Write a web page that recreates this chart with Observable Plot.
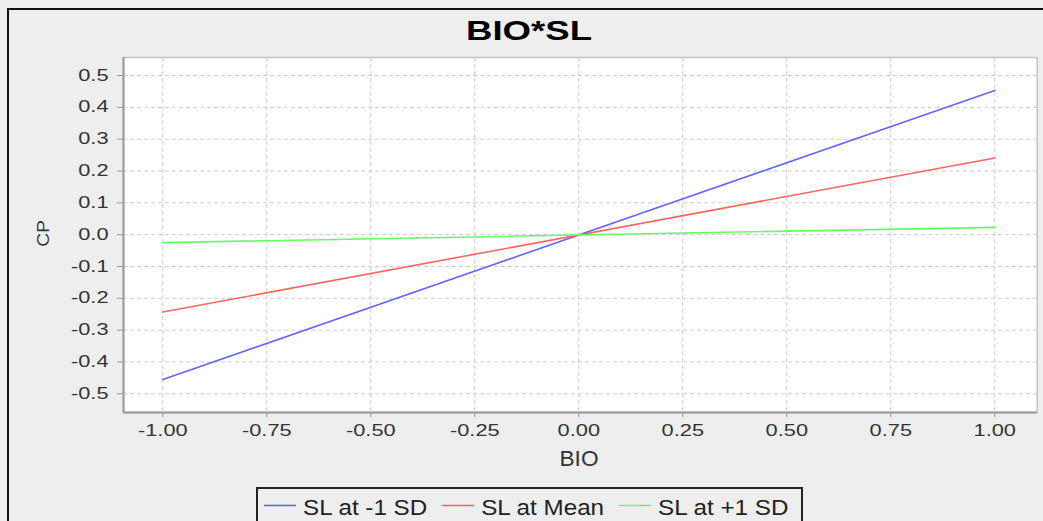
<!DOCTYPE html>
<html><head><meta charset="utf-8">
<script src="https://cdn.jsdelivr.net/npm/d3@7"></script>
<script src="https://cdn.jsdelivr.net/npm/@observablehq/plot@0.6"></script>
<style>
html,body{margin:0;padding:0;background:#eeeeee;width:1043px;height:521px;overflow:hidden;}
#frame{position:absolute;left:7px;top:8px;width:1100px;height:600px;border-left:2px solid #111;border-top:2px solid #111;box-sizing:border-box;}
#chart{position:absolute;left:0;top:0;}
#overlay{position:absolute;left:0;top:0;}
</style></head><body>
<div id="frame"></div>
<div id="chart"></div>
<svg id="overlay" width="1043" height="521" xmlns="http://www.w3.org/2000/svg"></svg>
<script>
const title = "BIO*SL";
const xLabel = "BIO";
const yLabel = "CP";
const seriesNames = ["SL at -1 SD", "SL at Mean", "SL at +1 SD"];
const seriesColors = ["#6464ff", "#ff6464", "#64ff64"];
const bio = [-1, 1];
const cpMinus1SD = [-0.455, 0.453];
const cpMean = [-0.243, 0.241];
const cpPlus1SD = [-0.025, 0.023];
const xTicks = [-1, -0.75, -0.5, -0.25, 0, 0.25, 0.5, 0.75, 1];
const yTicks = [-0.5, -0.4, -0.3, -0.2, -0.1, 0, 0.1, 0.2, 0.3, 0.4, 0.5];
const xDomain = [-1.0945, 1.102];
const yDomain = [-0.5588, 0.5566];

const FONT = "Liberation Sans";
const seriesValues = [cpMinus1SD, cpMean, cpPlus1SD];
const rows = seriesNames.flatMap((s, i) => bio.map((b, j) => ({bio: b, cp: seriesValues[i][j], series: s})));

const plot = Plot.plot({
  width: 1043, height: 440,
  marginLeft: 123, marginRight: 6.3, marginTop: 57, marginBottom: 28,
  style: {background: "transparent", fontFamily: FONT, fontSize: "16px", color: "#333", overflow: "visible"},
  x: {domain: xDomain},
  y: {domain: yDomain},
  color: {domain: seriesNames, range: seriesColors},
  marks: [
    Plot.frame({fill: "white", stroke: "#c4c4c4", strokeWidth: 1.5}),
    Plot.gridX(xTicks, {stroke: "#cccccc", strokeOpacity: 1, strokeDasharray: "4,3"}),
    Plot.gridY(yTicks, {stroke: "#cccccc", strokeOpacity: 1, strokeDasharray: "4,3"}),
    Plot.ruleX([xDomain[0]], {stroke: "#999", strokeWidth: 2}),
    Plot.ruleY([yDomain[0]], {stroke: "#999", strokeWidth: 2}),
    Plot.axisX(xTicks, {tickSize: 5, tickPadding: 7, tickFormat: d => d.toFixed(2), label: null, stroke: "#999", fill: "#333"}),
    Plot.axisY(yTicks, {tickSize: 6, tickPadding: 9, tickFormat: d => d.toFixed(1), label: null, stroke: "#999", fill: "#333"}),
    Plot.line(rows, {x: "bio", y: "cp", z: "series", stroke: "series", strokeWidth: 1.6})
  ]
});
document.getElementById("chart").appendChild(plot);

function stretch(t, f) {
  const L = t.getComputedTextLength();
  t.setAttribute("textLength", (L * f).toFixed(1));
  t.setAttribute("lengthAdjust", "spacingAndGlyphs");
}
// widen tick labels to match the reference rendering
plot.querySelectorAll('g[aria-label$="tick label"] text').forEach(t => stretch(t, 1.36));

const NS = "http://www.w3.org/2000/svg";
const ov = document.getElementById("overlay");
function txt(content, attrs) {
  const t = document.createElementNS(NS, "text");
  t.textContent = content;
  for (const k in attrs) t.setAttribute(k, attrs[k]);
  ov.appendChild(t);
  return t;
}
txt(title, {x: 529, y: 40, "text-anchor": "middle", "font-family": FONT, "font-weight": "bold", "font-size": 28, fill: "#000", textLength: 126, lengthAdjust: "spacingAndGlyphs"});
txt(xLabel, {x: 579, y: 466, "text-anchor": "middle", "font-family": FONT, "font-size": 22, fill: "#333", textLength: 39, lengthAdjust: "spacingAndGlyphs"});
txt(yLabel, {transform: "translate(48.5,233.3) rotate(-90)", "text-anchor": "middle", "font-family": FONT, "font-size": 17, fill: "#333", textLength: 26.7, lengthAdjust: "spacingAndGlyphs"});

// legend
const box = document.createElementNS(NS, "rect");
box.setAttribute("x", 257); box.setAttribute("y", 488); box.setAttribute("width", 545); box.setAttribute("height", 60);
box.setAttribute("fill", "none"); box.setAttribute("stroke", "#222"); box.setAttribute("stroke-width", 2);
ov.appendChild(box);
let cx = 264;
seriesNames.forEach((name, i) => {
  const ln = document.createElementNS(NS, "line");
  ln.setAttribute("x1", cx); ln.setAttribute("x2", cx + 32);
  ln.setAttribute("y1", 505.5); ln.setAttribute("y2", 505.5);
  ln.setAttribute("stroke", seriesColors[i]); ln.setAttribute("stroke-width", 1.6);
  ov.appendChild(ln);
  const t = txt(name, {x: cx + 39, y: 515, "font-family": FONT, "font-size": 22, fill: "#222"});
  stretch(t, 1.1);
  cx = cx + 39 + t.getComputedTextLength() + 15;
});
</script>
</body></html>
